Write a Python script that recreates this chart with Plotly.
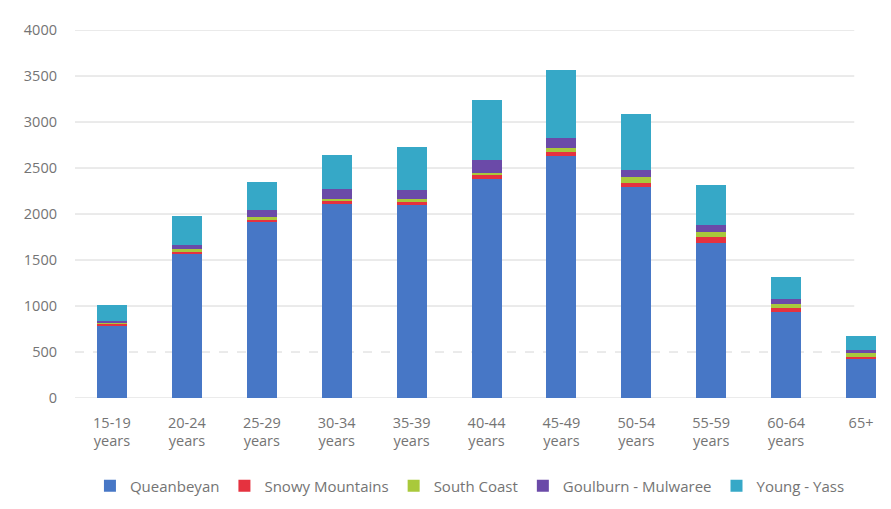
import plotly.graph_objects as go

# Age groups along the x axis
age_groups = ["15-19<br>years", "20-24<br>years", "25-29<br>years", "30-34<br>years",
              "35-39<br>years", "40-44<br>years", "45-49<br>years", "50-54<br>years",
              "55-59<br>years", "60-64<br>years", "65+"]

# Counts by region (stacked bottom to top)
queanbeyan = [785, 1560, 1910, 2105, 2095, 2380, 2635, 2290, 1690, 930, 420]
snowy_mountains = [30, 30, 35, 35, 40, 40, 40, 50, 55, 45, 25]
south_coast = [10, 25, 20, 25, 25, 30, 45, 60, 60, 45, 40]
goulburn_mulwaree = [10, 45, 75, 105, 105, 140, 110, 80, 80, 55, 40]
young_yass = [175, 320, 305, 375, 465, 645, 740, 610, 425, 240, 145]

y_ticks = [0, 500, 1000, 1500, 2000, 2500, 3000, 3500, 4000]

series = [
    ("Queanbeyan", queanbeyan, "#4777c6"),
    ("Snowy Mountains", snowy_mountains, "#e5323f"),
    ("South Coast", south_coast, "#a9c93b"),
    ("Goulburn - Mulwaree", goulburn_mulwaree, "#6b4aa8"),
    ("Young - Yass", young_yass, "#36a8c7"),
]

FONT = "'Open Sans', sans-serif"
TEXT = "#747474"

fig = go.Figure()
for name, vals, color in series:
    fig.add_trace(go.Bar(
        name=name, x=list(range(len(age_groups))), y=vals,
        marker=dict(color=color, line=dict(width=0)),
        width=0.4,
    ))

# Horizontal grid; the 500 line is drawn dashed
grid_end = 0.955
for v in y_ticks:
    fig.add_shape(type="line", xref="paper", yref="y",
                  x0=0, x1=grid_end, y0=v, y1=v, layer="below",
                  line=dict(color="#d6d6d6", width=1,
                            dash="dash" if v == 500 else "solid"))

fig.update_layout(
    barmode="stack",
    width=891, height=509,
    margin=dict(l=75, r=0, t=30, b=111),
    paper_bgcolor="white", plot_bgcolor="white",
    font=dict(family=FONT, size=14, color=TEXT),
    showlegend=True,
    legend=dict(orientation="h", x=0.484, xanchor="center", y=-0.239, yanchor="middle",
                font=dict(family=FONT, size=15, color=TEXT),
                itemwidth=30, traceorder="normal"),
    xaxis=dict(tickmode="array", tickvals=list(range(len(age_groups))),
               ticktext=age_groups, range=[-0.494, 10.4],
               showgrid=False, zeroline=False, showline=False,
               tickfont=dict(family=FONT, size=14.5, color=TEXT), ticks="",
               ticklabelstandoff=14),
    yaxis=dict(range=[0, 4000], tickvals=y_ticks, showgrid=False, zeroline=False,
               showline=False, tickfont=dict(family=FONT, size=14.5, color=TEXT),
               ticklabelstandoff=17),
)

fig.write_html("out.html")
